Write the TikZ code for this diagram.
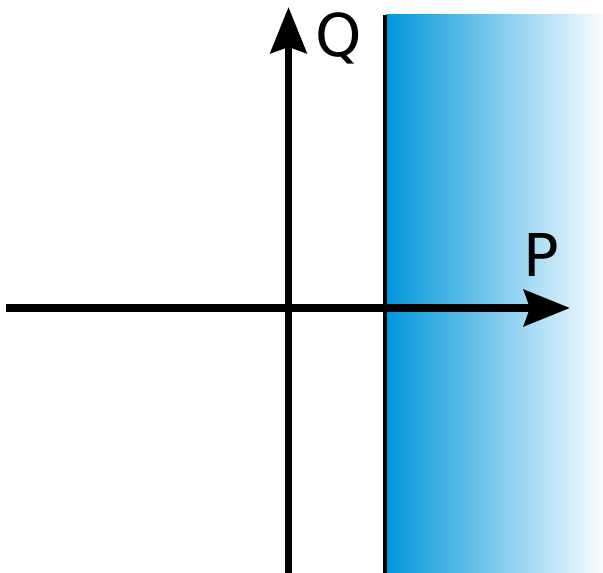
\documentclass[tikz,border=0pt]{standalone}
\usepackage{fontspec}
\setmainfont{DejaVu Sans}
\usetikzlibrary{arrows.meta}
\definecolor{fieldblue}{RGB}{0,150,220}
\begin{document}
\begin{tikzpicture}[x=1pt,y=1pt,
  axis/.style={line width=7.5pt,-{Stealth[length=46pt,width=36pt,inset=6pt]}},
  lbl/.style={inner sep=0pt,anchor=base,font=\fontsize{59}{60}\selectfont}]
\useasboundingbox (0,0) rectangle (603,573);
\shade[left color=fieldblue,right color=white,shading angle=90] (386,0) rectangle (608,558);
\fill[white] (603,0) rectangle (608,558);
\coordinate (xs) at (6,265);
\coordinate (xe) at (570,265);
\coordinate (ys) at (288.5,0);
\coordinate (ye) at (288.5,566);
\coordinate (bs) at (385,0);
\coordinate (be) at (385,558);
\draw[line width=4.5pt] (bs) -- (be);
\draw[axis] (xs) -- (xe);
\draw[axis] (ys) -- (ye);
\node[lbl] (Q) at (339,516) {Q};
\node[lbl] (P) at (541,296) {P};
\end{tikzpicture}
\end{document}
